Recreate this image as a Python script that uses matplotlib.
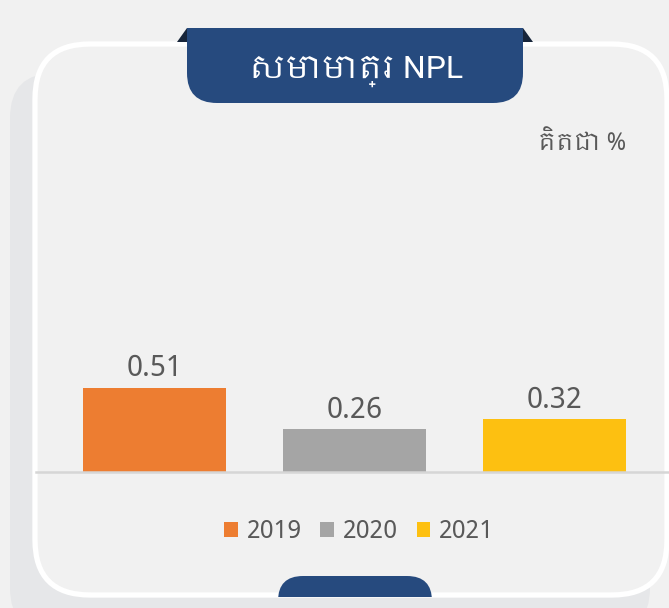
import matplotlib
matplotlib.use('Agg')
import matplotlib.pyplot as plt
from matplotlib import font_manager
from matplotlib.patches import FancyBboxPatch, Rectangle, Polygon, Patch

# data
years = ['2019', '2020', '2021']
npl_ratio = [0.51, 0.26, 0.32]
bar_colors = ['#ed7d31', '#a5a5a5', '#fdc011']
title = 'សមាមាត្រ NPL'
unit_note = 'គិតជា %'

# pick a font that has khmer glyphs if there is one
khmer = sorted({f.name for f in font_manager.fontManager.ttflist if 'Khmer' in f.name})
fams = khmer[:1] + ['Roboto', 'DejaVu Sans']
plt.rcParams['font.family'] = fams

W, H = 669, 608
fig = plt.figure(figsize=(W / 100, H / 100), dpi=100)
fig.patch.set_facecolor('#f1f1f1')

# background layer in pixel coords (y down)
bg = fig.add_axes([0, 0, 1, 1])
bg.set_xlim(0, W)
bg.set_ylim(H, 0)
bg.axis('off')

shadow = FancyBboxPatch((10 + 45, 73 + 45), 640 - 90, 560 - 90,
                        boxstyle='round,pad=45', fc='#e6e7e9', ec='none')
bg.add_patch(shadow)

card = FancyBboxPatch((35 + 55, 44 + 55), 632 - 110, 551 - 110,
                      boxstyle='round,pad=55', fc='#f1f1f1', ec='white', lw=3.8)
bg.add_patch(card)

# title tab
tab = FancyBboxPatch((187 + 30, -40 + 30), 336 - 60, 143 - 60,
                     boxstyle='round,pad=30', fc='#264a7e', ec='none', zorder=3)
bg.add_patch(tab)
tab.set_clip_path(Rectangle((150, 28), 400, 75, transform=bg.transData))
bg.add_patch(Polygon([(177, 42), (187, 28), (187, 42)], closed=True, fc='#17253a', ec='none', zorder=2))
bg.add_patch(Polygon([(523, 28), (533, 42), (523, 42)], closed=True, fc='#17253a', ec='none', zorder=2))
bg.text(356, 71, title, color='white', fontsize=23, ha='center', va='center', zorder=4)

# bottom tab
btab = FancyBboxPatch((278 + 25, 576 + 25), 154 - 50, 60 - 50,
                      boxstyle='round,pad=25', fc='#264a7e', ec='none', zorder=3)
bg.add_patch(btab)
btab.set_clip_path(Rectangle((250, 570), 220, 26.5, transform=bg.transData))

bg.text(626, 143, unit_note, color='#595959', fontsize=17, ha='right', va='center')

# bar chart
ax = fig.add_axes([36 / W, 136 / H, 633 / W, 341 / H])
ax.set_facecolor('none')
x = range(len(years))
bars = ax.bar(x, npl_ratio, width=0.715, color=bar_colors, zorder=2)
ax.bar_label(bars, labels=[f'{v:.2f}' for v in npl_ratio], padding=4,
             fontsize=21, color='#595959')
ax.set_xlim(-0.5925, 2.5725)
ax.set_ylim(0, 341 / 165)
for s in ['top', 'left', 'right']:
    ax.spines[s].set_visible(False)
ax.spines['bottom'].set_color('#d6d6d6')
ax.spines['bottom'].set_linewidth(1.8)
ax.set_xticks([])
ax.set_yticks([])

handles = [Patch(fc=c, ec='none') for c in bar_colors]
fig.legend(handles, years, loc='center', bbox_to_anchor=(359 / W, (H - 531) / H),
           ncol=3, frameon=False, fontsize=18, labelcolor='#595959',
           handlelength=0.55, handleheight=0.55, handletextpad=0.35,
           columnspacing=0.75, borderaxespad=0)

fig.savefig('out.png', dpi=100, facecolor=fig.get_facecolor())
